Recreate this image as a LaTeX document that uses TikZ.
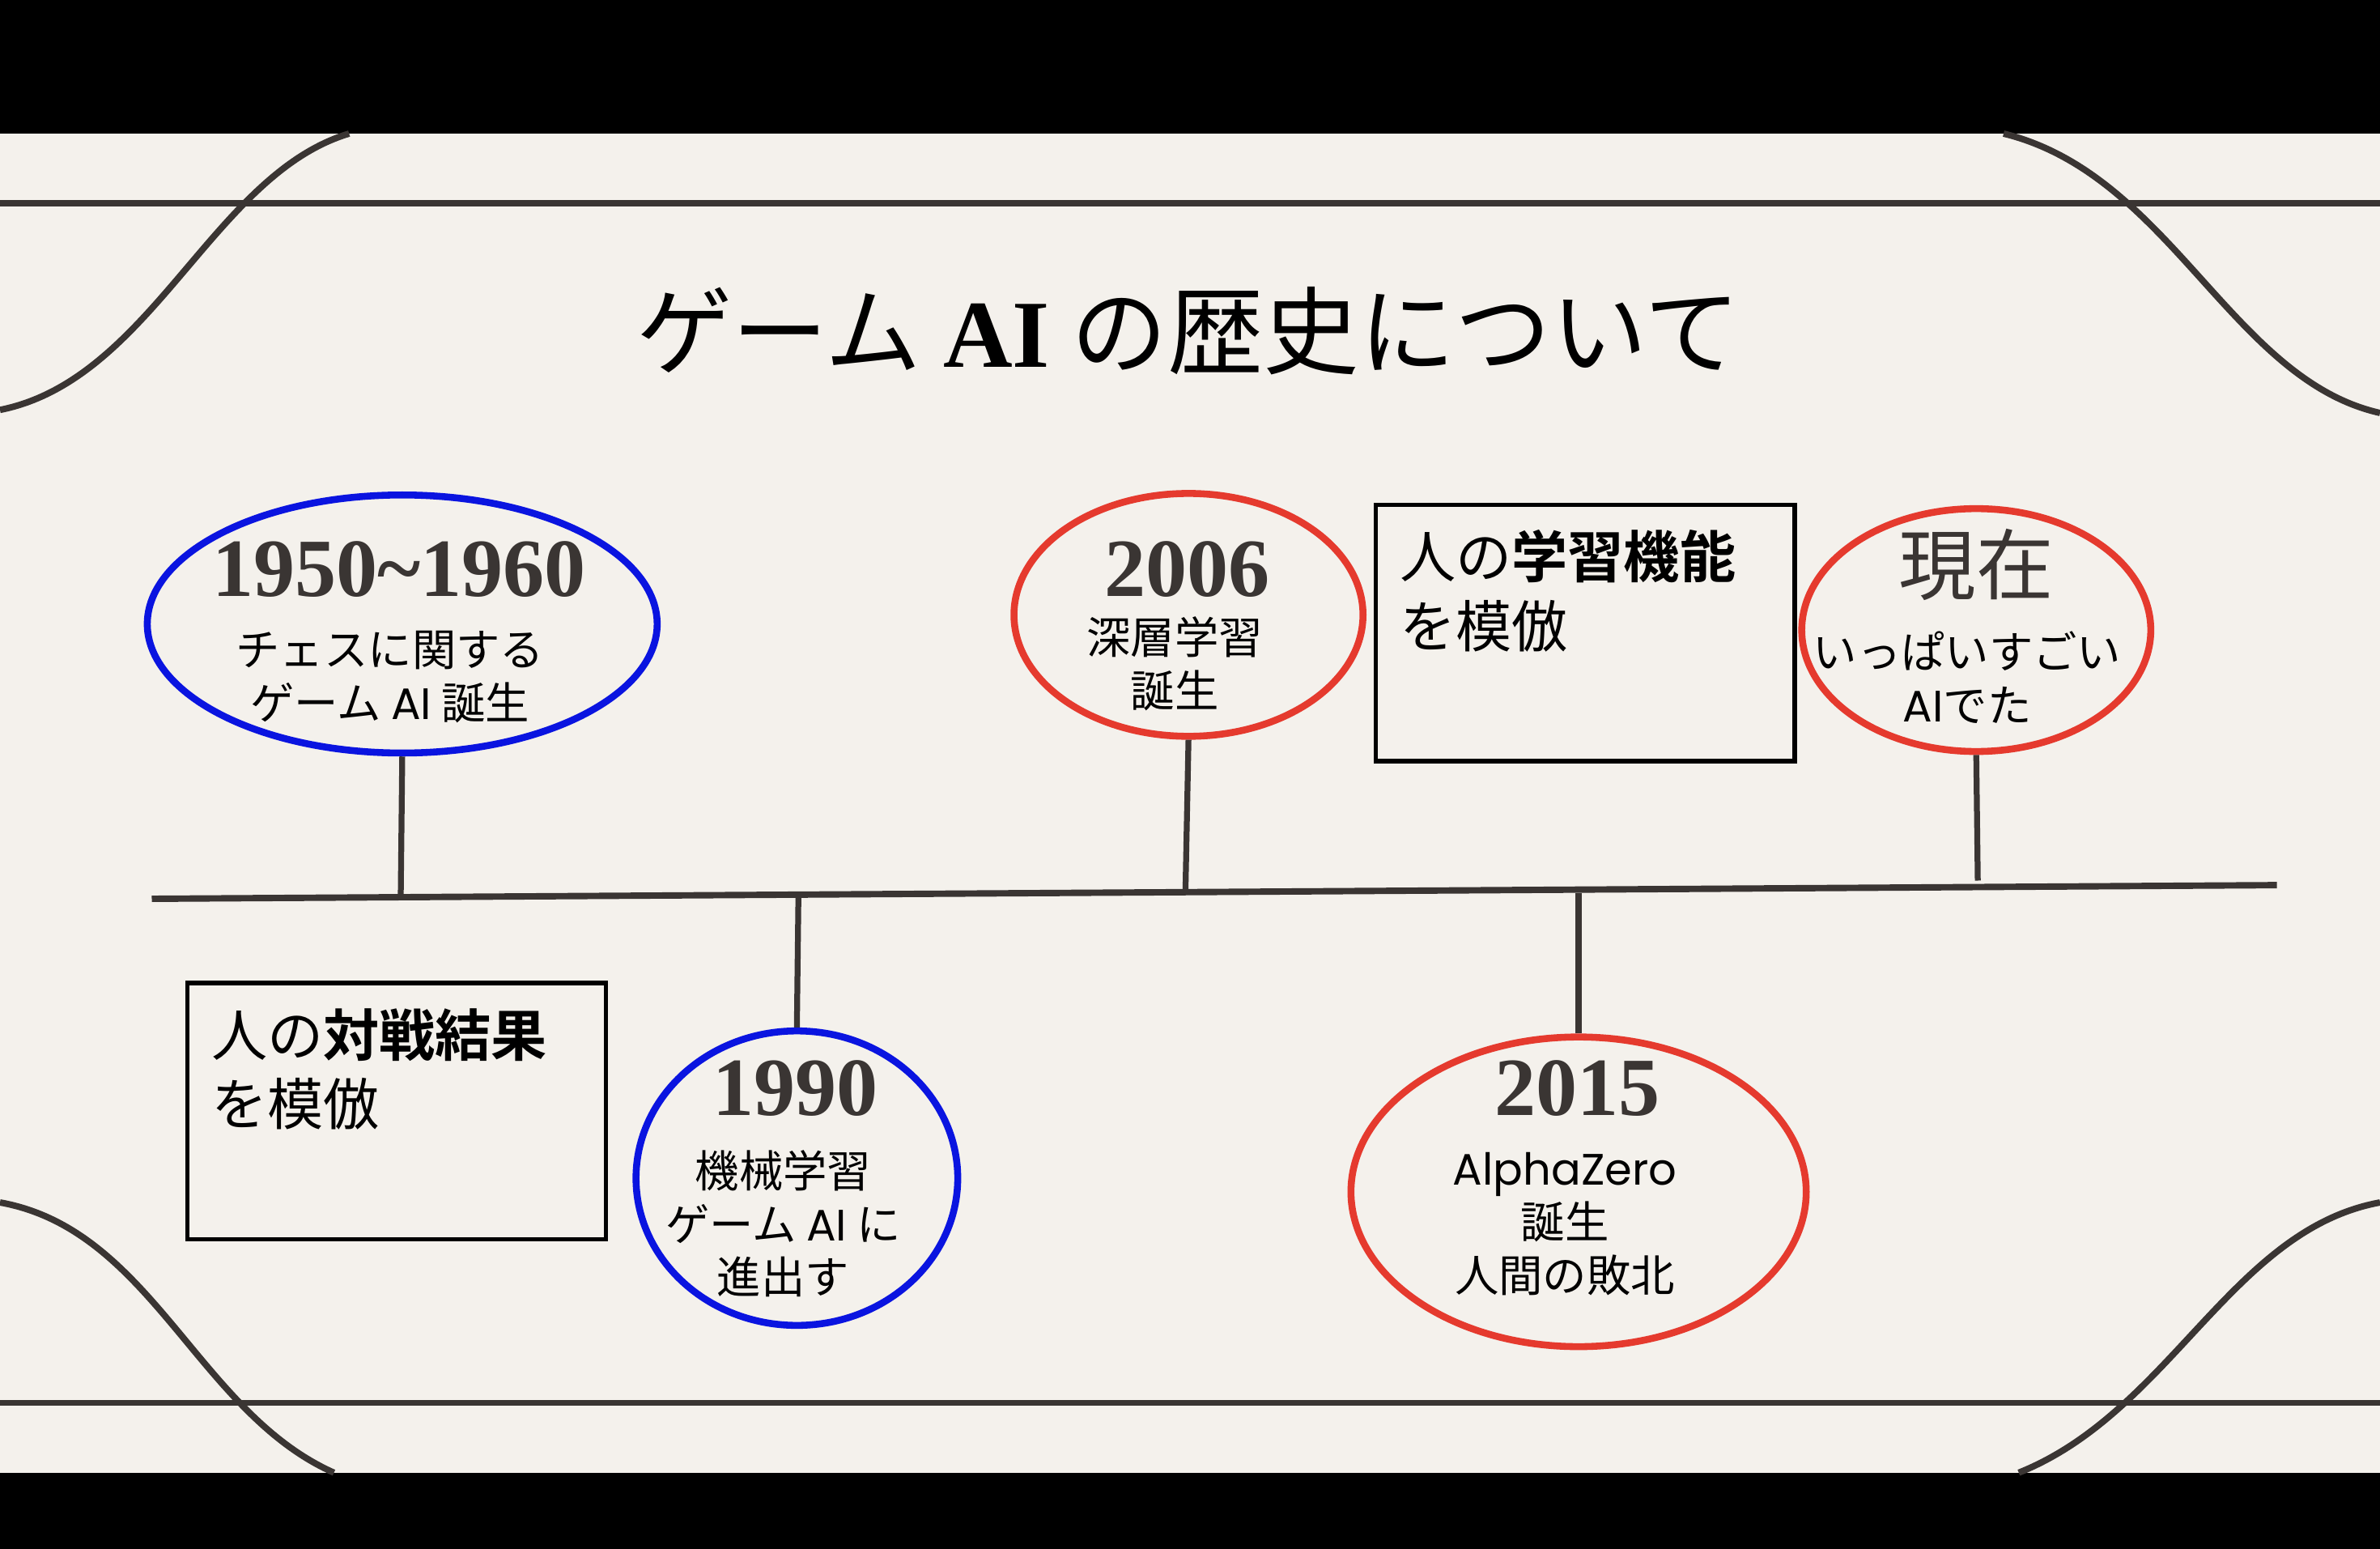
\documentclass[tikz,border=0pt]{standalone}
\usepackage{fontspec}
\usetikzlibrary{shapes.geometric}
\setmainfont{Liberation Serif}
\newfontfamily\jp{Noto Sans CJK JP}
\newfontfamily\jpb{Noto Sans CJK JP Bold}
\newfontfamily\pop{Poppins}
\definecolor{bg}{HTML}{F4F1EC}
\definecolor{ink}{HTML}{3A3533}
\definecolor{myblue}{HTML}{0A14E0}
\definecolor{myred}{HTML}{E53A2E}
\begin{document}
\begin{tikzpicture}[x=0.02cm,y=-0.02cm,
  deco/.style={ink,line width=2.4pt},
  stem/.style={ink,line width=2.2pt},
  ov/.style={ellipse,line width=2.6pt,draw},
  box/.style={draw=black,line width=1.6pt,anchor=north west,inner sep=0pt},
  yr/.style={font=\fontsize{31}{31}\selectfont\bfseries,text=ink},
  sm/.style={font=\jp\fontsize{16.5}{20}\selectfont,align=center,text=black}]
\useasboundingbox (0,0) rectangle (1568,1020);
\fill[black] (0,0) rectangle (1568,1020);
\fill[bg] (0,88) rectangle (1568,970);
\draw[deco] (0,134) -- (1568,134);
\draw[deco] (0,924) -- (1568,924);
\draw[deco] (230,88) .. controls (140,115) and (100,250) .. (0,270);
\draw[deco] (1320,88) .. controls (1430,115) and (1470,250) .. (1568,272);
\draw[deco] (0,792) .. controls (100,810) and (130,930) .. (220,970);
\draw[deco] (1568,792) .. controls (1470,810) and (1430,930) .. (1330,970);
\node[font=\jp\fontsize{36}{36}\selectfont] (title) at (783,218) {ゲーム {\rmfamily\bfseries AI} の歴史について};
\coordinate (L) at (100,592); \coordinate (R) at (1500,583);
\draw[ink,line width=2.4pt] (L) -- (R);
\node[ov,draw=myblue,inner sep=0pt,minimum width=6.72cm,minimum height=3.4cm] (e1) at (265,411) {};
\node[ov,draw=myred,inner sep=0pt,minimum width=4.6cm,minimum height=3.2cm] (e2) at (783,405) {};
\node[ov,draw=myred,inner sep=0pt,minimum width=4.6cm,minimum height=3.2cm] (e3) at (1302,415) {};
\node[ov,draw=myblue,inner sep=0pt,minimum width=4.24cm,minimum height=3.88cm] (e4) at (525,776) {};
\node[ov,draw=myred,inner sep=0pt,minimum width=6.0cm,minimum height=4.08cm] (e5) at (1040,785) {};
\coordinate (s1) at (264,592); \coordinate (s2) at (781,587); \coordinate (s3) at (1303,580);
\coordinate (s4) at (526,591); \coordinate (s5) at (1040,588);
\draw[stem] (e1.south) -- (s1); \draw[stem] (e2.south) -- (s2); \draw[stem] (e3.south) -- (s3);
\draw[stem] (e4.north) -- (s4); \draw[stem] (e5.north) -- (s5);
\node[yr] (y1) at (263,375) {1950\textasciitilde1960};
\node[sm] (t1) at (257,446) {チェスに関する\\ゲーム {\pop AI} 誕生};
\node[yr] (y2) at (782,375) {2006};
\node[sm] (t2) at (774,437) {深層学習\\誕生};
\node[font=\jp\fontsize{29}{29}\selectfont,text=ink] (y3) at (1302,372) {現在};
\node[sm] (t3) at (1296,446) {いっぱいすごい\\{\pop AI}でた};
\node[yr] (y4) at (524,717) {1990};
\node[sm] (t4) at (516,806) {機械学習\\ゲーム {\pop AI} に\\進出す};
\node[yr] (y5) at (1039,717) {2015};
\node[sm] (t5) at (1031,806) {{\pop AlphaZero}\\誕生\\人間の敗北};
\node[box,minimum width=5.52cm,minimum height=3.38cm] (b1) at (905,331) {};
\node[anchor=north west,font=\jp\fontsize{21}{26}\selectfont,align=left] (bt1) at (916,343) {人の{\jpb 学習機能}\\を模倣};
\node[box,minimum width=5.52cm,minimum height=3.38cm] (b2) at (122,646) {};
\node[anchor=north west,font=\jp\fontsize{21}{26}\selectfont,align=left] (bt2) at (133,658) {人の{\jpb 対戦結果}\\を模倣};
\end{tikzpicture}
\end{document}
